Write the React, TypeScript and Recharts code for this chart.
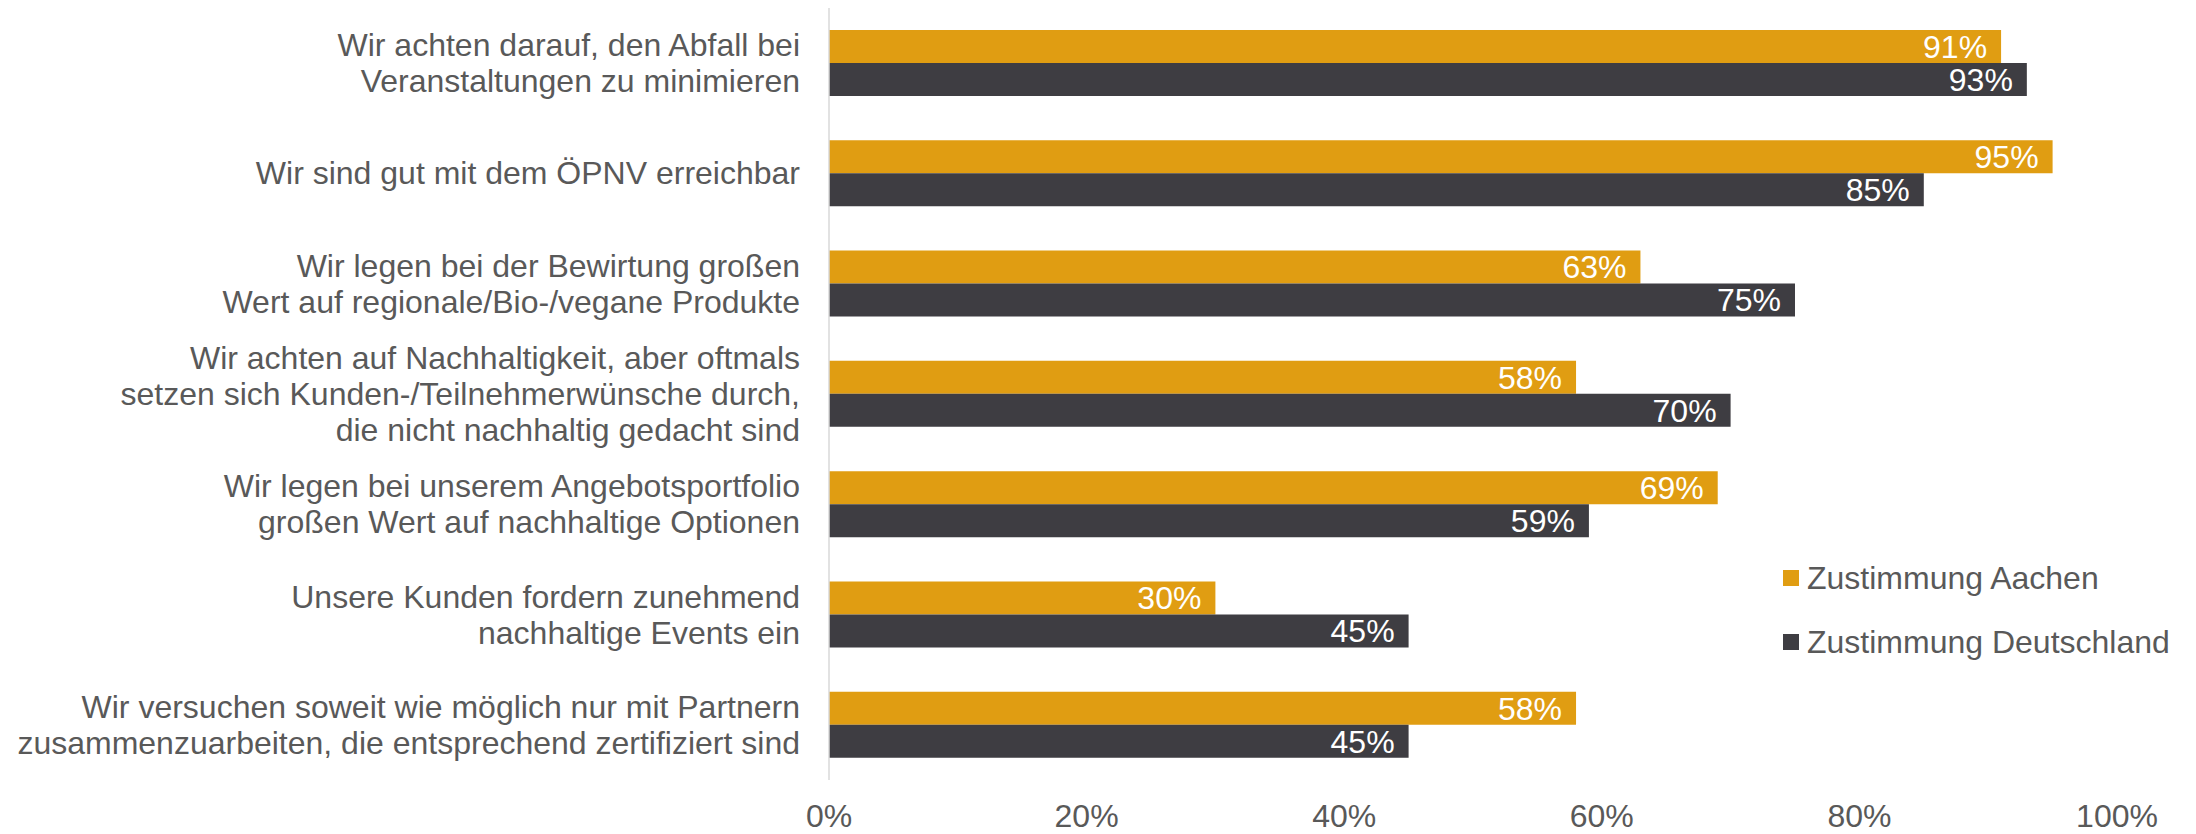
import React from 'react';
import { BarChart, Bar, XAxis, YAxis, LabelList, Legend } from 'recharts';

// category labels, already broken into lines like the original
const categories = [
  ['Wir achten darauf, den Abfall bei', 'Veranstaltungen zu minimieren'],
  ['Wir sind gut mit dem ÖPNV erreichbar'],
  ['Wir legen bei der Bewirtung großen', 'Wert auf regionale/Bio-/vegane Produkte'],
  ['Wir achten auf Nachhaltigkeit, aber oftmals', 'setzen sich Kunden-/Teilnehmerwünsche durch,', 'die nicht nachhaltig gedacht sind'],
  ['Wir legen bei unserem Angebotsportfolio', 'großen Wert auf nachhaltige Optionen'],
  ['Unsere Kunden fordern zunehmend', 'nachhaltige Events ein'],
  ['Wir versuchen soweit wie möglich nur mit Partnern', 'zusammenzuarbeiten, die entsprechend zertifiziert sind'],
];

const aachen = [91, 95, 63, 58, 69, 30, 58];
const deutschland = [93, 85, 75, 70, 59, 45, 45];
const xTicks = [0, 20, 40, 60, 80, 100];

const seriesNames = { aachen: 'Zustimmung Aachen', deutschland: 'Zustimmung Deutschland' };

const ORANGE = '#E09D12';
const DARK = '#3E3D42';
const GREY = '#595959';
const FONT = '"Liberation Sans", Arial, sans-serif';

const data = categories.map((lines, i) => ({
  name: lines.join('\n'),
  aachen: aachen[i],
  deutschland: deutschland[i],
}));

const CategoryTick = ({ x, y, payload }: any) => {
  const lines = String(payload.value).split('\n');
  const lh = 36;
  const start = -((lines.length - 1) * lh) / 2;
  return (
    <text x={x} y={y} textAnchor="end" fill={GREY} fontSize={32} fontFamily={FONT}>
      {lines.map((l, i) => (
        <tspan key={i} x={x} dy={i === 0 ? start + 11 : lh}>
          {l}
        </tspan>
      ))}
    </text>
  );
};

const LegendContent = ({ payload }: any) => (
  <div style={{ fontFamily: FONT, fontSize: 32, color: GREY }}>
    {(payload || []).map((entry: any) => (
      <div key={entry.value} style={{ display: 'flex', alignItems: 'center', height: 64 }}>
        <span style={{ width: 16, height: 16, background: entry.color, display: 'inline-block', marginRight: 8 }} />
        <span>{entry.value}</span>
      </div>
    ))}
  </div>
);

export default function App() {
  return (
    <div style={{ position: 'absolute', left: 0, top: 0, width: 2196, height: 834, background: '#fff', fontFamily: FONT }}>
      <BarChart
        width={2196}
        height={834}
        data={data}
        layout="vertical"
        margin={{ top: 8, right: 79, bottom: 24, left: 0 }}
        barCategoryGap={22}
        barGap={0}
      >
        <XAxis
          type="number"
          domain={[0, 100]}
          ticks={xTicks}
          tickFormatter={(v) => `${v}%`}
          axisLine={false}
          tickLine={false}
          tickMargin={18}
          tick={{ fill: GREY, fontSize: 32, fontFamily: FONT }}
        />
        <YAxis
          type="category"
          dataKey="name"
          width={829}
          interval={0}
          tickLine={false}
          tickMargin={23}
          axisLine={{ stroke: '#D9D9D9', strokeWidth: 1.5 }}
          tick={<CategoryTick />}
        />
        <Legend
          layout="vertical"
          align="center"
          verticalAlign="middle"
          content={<LegendContent />}
          wrapperStyle={{ position: 'absolute', left: 1783, top: 546, width: 'auto' }}
        />
        <Bar dataKey="aachen" name={seriesNames.aachen} fill={ORANGE} isAnimationActive={false}>
          <LabelList
            dataKey="aachen"
            position="insideRight"
            offset={14}
            fill="#fff"
            fontSize={32}
            fontFamily={FONT}
            formatter={(v: any) => `${v}%`}
          />
        </Bar>
        <Bar dataKey="deutschland" name={seriesNames.deutschland} fill={DARK} isAnimationActive={false}>
          <LabelList
            dataKey="deutschland"
            position="insideRight"
            offset={14}
            fill="#fff"
            fontSize={32}
            fontFamily={FONT}
            formatter={(v: any) => `${v}%`}
          />
        </Bar>
      </BarChart>
    </div>
  );
}
